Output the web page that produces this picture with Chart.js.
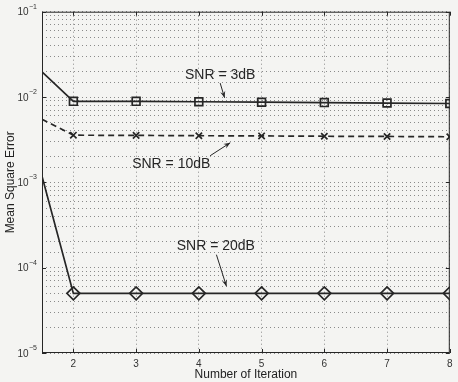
<!DOCTYPE html>
<html>
<head>
<meta charset="utf-8">
<script src="https://cdn.jsdelivr.net/npm/chart.js@4/dist/chart.umd.min.js"></script>
<style>
  html, body { margin: 0; padding: 0; background: #f4f4f2; }
  #wrap { width: 458px; height: 382px; }
</style>
</head>
<body>
<div id="wrap"><canvas id="c" width="458" height="382"></canvas></div>
<script>
// Iteration index (first sample sits at the left edge, before iteration 2)
const iterations = [1.5, 2, 3, 4, 5, 6, 7, 8];
// Mean square error per SNR level
const mseSnr3 = [0.0197, 0.0089, 0.0089, 0.0088, 0.0087, 0.0086, 0.0085, 0.0084];
const mseSnr10 = [0.0055, 0.00357, 0.00355, 0.00352, 0.0035, 0.00347, 0.00345, 0.00342];
const mseSnr20 = [0.00118, 0.00005, 0.00005, 0.00005, 0.00005, 0.00005, 0.00005, 0.00005];
const xTicks = [2, 3, 4, 5, 6, 7, 8];
const yDecades = [1e-5, 1e-4, 1e-3, 1e-2, 1e-1];
const yDecadeExponents = ['\u22125', '\u22124', '\u22123', '\u22122', '\u22121'];

// Curve labels with arrows, in data coordinates
const notes = [
  { text: 'SNR = 3dB', x: 4.34, y: 0.0181, from: [4.34, 0.01456], to: [4.41, 0.0098] },
  { text: 'SNR = 10dB', x: 3.56, y: 0.00164, from: [4.18, 0.00205], to: [4.5, 0.00291] },
  { text: 'SNR = 20dB', x: 4.27, y: 0.000177, from: [4.28, 0.000142], to: [4.44, 0.0000605] }
];

const ink = '#262626';
const FONT = '"Liberation Sans", Arial, sans-serif';
const markerRadius = iterations.map((v, i) => i === 0 ? 0 : 5);

const bgPlugin = {
  id: 'bg',
  beforeDraw(chart) {
    const ctx = chart.ctx;
    ctx.save();
    ctx.fillStyle = '#f4f4f2';
    ctx.fillRect(0, 0, chart.width, chart.height);
    ctx.restore();
  }
};

const framePlugin = {
  id: 'frame',
  afterDraw(chart) {
    const { ctx, chartArea: a, scales } = chart;
    ctx.save();
    // decade labels written as 10 with a raised exponent
    ctx.fillStyle = '#333';
    ctx.textBaseline = 'middle';
    yDecades.forEach((v, i) => {
      const py = scales.y.getPixelForValue(v);
      ctx.font = '7px ' + FONT;
      ctx.textAlign = 'left';
      const ew = ctx.measureText(yDecadeExponents[i]).width;
      const right = a.left - 5;
      ctx.fillText(yDecadeExponents[i], right - ew, py - 5);
      ctx.font = '10px ' + FONT;
      ctx.textAlign = 'right';
      ctx.fillText('10', right - ew - 0.5, py + 1);
    });
    ctx.restore();
  },
  afterDatasetsDraw(chart) {
    const { ctx, chartArea: a, scales } = chart;
    ctx.save();
    ctx.strokeStyle = ink;
    ctx.lineWidth = 1;
    ctx.setLineDash([]);
    ctx.strokeRect(a.left + 0.5, a.top + 0.5, a.right - a.left - 1, a.bottom - a.top - 1);
    // inward tick marks
    ctx.beginPath();
    xTicks.forEach(v => {
      const px = Math.round(scales.x.getPixelForValue(v)) + 0.5;
      ctx.moveTo(px, a.bottom); ctx.lineTo(px, a.bottom - 4);
      ctx.moveTo(px, a.top); ctx.lineTo(px, a.top + 4);
    });
    yDecades.forEach(v => {
      const py = Math.round(scales.y.getPixelForValue(v)) + 0.5;
      ctx.moveTo(a.left, py); ctx.lineTo(a.left + 4, py);
      ctx.moveTo(a.right, py); ctx.lineTo(a.right - 4, py);
    });
    ctx.stroke();

    // curve labels and arrows
    ctx.font = '14px ' + FONT;
    ctx.fillStyle = ink;
    ctx.textAlign = 'center';
    ctx.textBaseline = 'middle';
    notes.forEach(n => {
      ctx.fillText(n.text, scales.x.getPixelForValue(n.x), scales.y.getPixelForValue(n.y));
      const x0 = scales.x.getPixelForValue(n.from[0]), y0 = scales.y.getPixelForValue(n.from[1]);
      const x1 = scales.x.getPixelForValue(n.to[0]), y1 = scales.y.getPixelForValue(n.to[1]);
      ctx.beginPath();
      ctx.lineWidth = 1;
      ctx.moveTo(x0, y0); ctx.lineTo(x1, y1);
      ctx.stroke();
      const ang = Math.atan2(y1 - y0, x1 - x0);
      const len = 7, spread = 0.38;
      ctx.beginPath();
      ctx.moveTo(x1, y1);
      ctx.lineTo(x1 - len * Math.cos(ang - spread), y1 - len * Math.sin(ang - spread));
      ctx.lineTo(x1 - len * 0.6 * Math.cos(ang), y1 - len * 0.6 * Math.sin(ang));
      ctx.lineTo(x1 - len * Math.cos(ang + spread), y1 - len * Math.sin(ang + spread));
      ctx.closePath();
      ctx.fill();
    });
    ctx.restore();
  }
};

const lineStyle = {
  borderColor: ink,
  backgroundColor: 'rgba(0,0,0,0)',
  borderWidth: 1.7,
  pointBorderColor: ink,
  pointBackgroundColor: 'rgba(0,0,0,0)',
  pointBorderWidth: 1.7,
  tension: 0
};

new Chart(document.getElementById('c'), {
  type: 'line',
  data: {
    datasets: [
      Object.assign({}, lineStyle, {
        label: 'SNR = 3dB',
        data: iterations.map((x, i) => ({ x, y: mseSnr3[i] })),
        pointStyle: 'rect', pointRadius: markerRadius.map(r => r ? 5.5 : 0)
      }),
      Object.assign({}, lineStyle, {
        label: 'SNR = 10dB',
        data: iterations.map((x, i) => ({ x, y: mseSnr10[i] })),
        borderDash: [6, 4],
        pointStyle: 'crossRot', pointRadius: markerRadius.map(r => r ? 4.5 : 0)
      }),
      Object.assign({}, lineStyle, {
        label: 'SNR = 20dB',
        data: iterations.map((x, i) => ({ x, y: mseSnr20[i] })),
        pointStyle: 'rectRot', pointRadius: markerRadius.map(r => r ? 6.5 : 0)
      })
    ]
  },
  options: {
    responsive: false,
    animation: false,
    layout: { padding: { left: 0, right: 5, top: 10, bottom: 0 } },
    plugins: { legend: { display: false }, tooltip: { enabled: false } },
    scales: {
      x: {
        type: 'linear',
        min: 1.5, max: 8,
        afterBuildTicks(scale) { scale.ticks = xTicks.map(v => ({ value: v })); },
        afterFit(scale) { scale.height = 29; },
        grid: { color: '#8a8a8a', lineWidth: 1, drawTicks: false },
        border: { display: false, dash: [1, 3] },
        ticks: { color: '#333', font: { family: FONT, size: 10 }, padding: 5 },
        title: { display: true, text: 'Number of Iteration', color: '#222',
                 font: { family: FONT, size: 12 }, padding: { top: 0, bottom: 0 } }
      },
      y: {
        type: 'logarithmic',
        min: 1e-5, max: 1e-1,
        afterFit(scale) { scale.width = 42; },
        grid: { color: '#8a8a8a', lineWidth: 1, drawTicks: false },
        border: { display: false, dash: [1, 3] },
        ticks: {
          color: 'rgba(0,0,0,0)',
          font: { family: FONT, size: 9.5 },
          padding: 6,
          autoSkip: false,
          callback(value) {
            const k = yDecades.findIndex(d => Math.abs(d - value) / d < 1e-6);
            return k >= 0 ? '10' : '';
          }
        },
        title: { display: true, text: 'Mean Square Error', color: '#222',
                 font: { family: FONT, size: 12 }, padding: { top: 3, bottom: 0 } }
      }
    }
  },
  plugins: [bgPlugin, framePlugin]
});
</script>
</body>
</html>
